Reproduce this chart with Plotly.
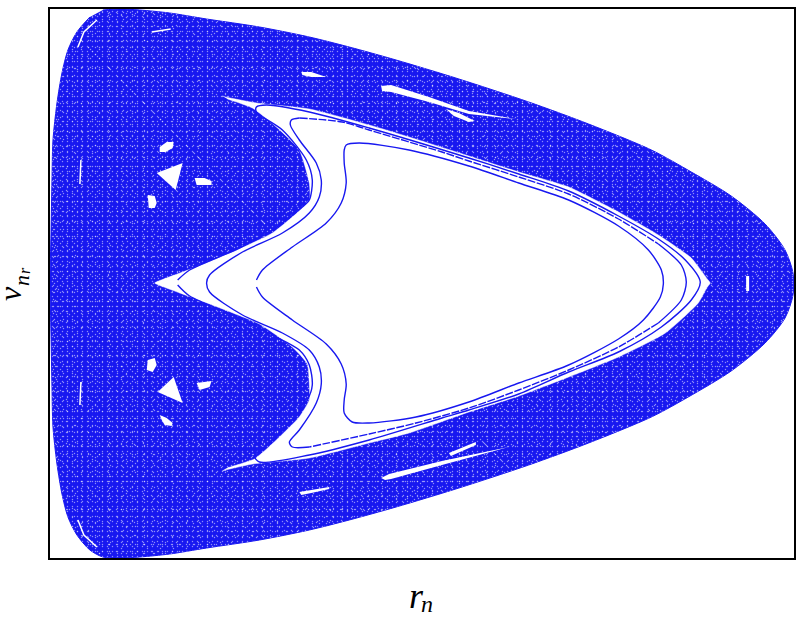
import plotly.graph_objects as go

BLUE = "#1818f0"

# chaotic sea, outer edge (clockwise from top left)
sea_r = [103, 120, 140, 170, 207, 260, 310, 350, 397, 460, 530, 590, 653, 693, 733, 767, 787, 795, 795, 787, 767, 733, 690, 653, 590, 530, 460, 397, 350, 310, 260, 207, 170, 140, 120, 103,
         90, 77, 68, 62, 57, 53, 52, 51, 50, 51, 52, 53, 57, 62, 68, 77, 90]
sea_v = [10, 9, 10, 13, 19, 27, 37, 47, 60, 79, 102, 124, 150, 172, 196, 224, 250, 273, 295, 318, 343, 371, 397, 417, 443, 465, 488, 507, 520, 530, 540, 548, 554, 557, 558, 557,
         550, 535, 517, 494, 464, 427, 387, 334, 284, 233, 180, 140, 103, 73, 50, 32, 17]

# empty region inside the sea
lagoon_r = [223, 226, 257, 310, 370, 410, 470, 520, 570, 620, 660, 693, 709, 712, 709, 700, 667, 620, 570, 520, 470, 410, 370, 310, 253, 226, 223,
            228, 255, 277, 300, 310, 310, 308, 293, 260, 210, 159, 155, 159, 207, 273, 310, 310, 300, 277, 253, 228]
lagoon_v = [96, 97, 103, 109, 125, 137, 156, 172, 187, 212, 235, 258, 279, 283, 287, 303, 333, 357, 377, 396, 412, 433, 443, 458, 464, 470, 471,
            468, 459, 440, 417, 400, 384, 364, 347, 324, 304, 285, 283, 281, 263, 233, 200, 183, 150, 127, 108, 99]

# invariant curves, outer to inner
curve1_r = [178, 190, 240, 273, 303, 310, 313, 307, 283, 257, 257, 267, 310, 370, 470, 520, 570, 620, 660, 687, 702, 693, 663, 620, 570, 520,
            470, 443, 370, 310, 260, 255, 277, 308, 313, 310, 300, 273, 240, 190, 178]
curve1_v = [280, 270, 248, 230, 207, 200, 180, 160, 130, 112, 107, 105, 112, 128, 158, 174, 191, 216, 239, 260, 282, 300, 327, 352, 372, 394,
            410, 418, 440, 455, 462, 456, 437, 400, 385, 365, 350, 335, 318, 296, 285]

curve2_left_r = [310, 293, 290, 300, 317, 322, 320, 310, 283, 243, 210, 207, 210, 243, 283, 310, 320, 322, 317, 300, 291, 292, 300]
curve2_left_v = [447, 447, 442, 430, 403, 384, 367, 350, 333, 315, 292, 283, 275, 252, 233, 213, 197, 180, 163, 140, 125, 120, 118]
curve2_top_r = [300, 343, 370, 443, 470, 520, 570, 620, 660]
curve2_top_v = [118, 122, 130, 152, 161, 177, 194, 219, 244]
curve2_tip_r = [660, 683, 688, 683, 660]
curve2_tip_v = [244, 265, 282, 300, 323]
curve2_low_r = [660, 620, 570, 520, 470, 417, 370, 310]
curve2_low_v = [323, 347, 370, 390, 408, 423, 434, 447]

curve3_r = [257, 263, 293, 327, 342, 347, 345, 345, 347, 360, 410, 470, 520, 570, 620, 650, 663, 665, 662, 645, 620, 570, 520, 470, 417, 370,
            353, 345, 345, 347, 342, 327, 293, 263, 257]
curve3_v = [280, 270, 247, 223, 203, 183, 163, 150, 145, 143, 150, 166, 183, 200, 226, 250, 270, 284, 297, 320, 339, 365, 383, 402, 417, 423,
            422, 413, 400, 384, 364, 344, 320, 297, 287]

# islands, as [r...], [v...]
islands = [
    ([157, 183, 176], [173, 163, 190]),
    ([160, 167, 174, 173, 166, 160], [147, 142, 142, 148, 152, 152]),
    ([195, 205, 212, 212, 197], [178, 178, 181, 185, 185]),
    ([148, 155, 157, 155, 149], [195, 196, 203, 208, 208]),
    ([302, 312, 327, 312, 303], [72, 72, 77, 77, 75]),
    ([382, 392, 430, 470, 517, 470, 430, 392, 383], [86, 85, 97, 111, 119, 114, 102, 92, 91]),
    ([447, 460, 476, 470, 455], [109, 113, 121, 122, 116]),
    ([158, 174, 183], [392, 377, 403]),
    ([197, 212, 210, 200], [383, 381, 387, 390]),
    ([148, 155, 157, 153, 147], [360, 358, 365, 372, 370]),
    ([160, 167, 173, 172, 165, 162], [415, 418, 423, 426, 425, 420]),
    ([300, 312, 330, 330, 312, 302], [492, 490, 487, 489, 493, 495]),
    ([382, 390, 443, 510, 443, 392, 386], [478, 474, 461, 447, 465, 479, 480]),
    ([450, 477, 477, 452], [453, 442, 445, 456]),
    ([748, 751, 751, 748], [276, 276, 291, 291]),
]

# thin white slivers
slivers = [
    ([78, 84, 97], [47, 32, 20]),
    ([152, 171], [32, 29]),
    ([81, 80], [160, 184]),
    ([81, 80], [382, 405]),
    ([78, 84, 97], [520, 535, 547]),
]

speckle_sizes = [5, 7, 9, 11, 13, 17]

fig = go.Figure()

fig.add_trace(go.Scatter(x=sea_r, y=sea_v, mode="lines", fill="toself", fillcolor=BLUE,
                         line=dict(color=BLUE, width=1, shape="spline", smoothing=0.8)))
for size in speckle_sizes:
    fig.add_trace(go.Scatter(x=sea_r, y=sea_v, mode="none", fill="toself", fillcolor="rgba(0,0,0,0)",
                             line=dict(shape="spline", smoothing=0.8),
                             fillpattern=dict(shape=".", fgcolor="white", bgcolor="rgba(0,0,0,0)",
                                              size=size, solidity=1.6 / size ** 2)))

fig.add_trace(go.Scatter(x=lagoon_r, y=lagoon_v, mode="lines", fill="toself", fillcolor="white",
                         line=dict(color="white", width=0.5, shape="spline", smoothing=0.5)))
for isl_r, isl_v in islands:
    fig.add_trace(go.Scatter(x=isl_r, y=isl_v, mode="none", fill="toself", fillcolor="white"))
for sl_r, sl_v in slivers:
    fig.add_trace(go.Scatter(x=sl_r, y=sl_v, mode="lines", line=dict(color="white", width=1.5)))

for c_r, c_v, dash in [(curve1_r, curve1_v, "solid"), (curve3_r, curve3_v, "solid"),
                       (curve2_left_r, curve2_left_v, "solid"), (curve2_tip_r, curve2_tip_v, "solid"),
                       (curve2_top_r, curve2_top_v, "8px,1.5px"), (curve2_low_r, curve2_low_v, "8px,1.5px")]:
    fig.add_trace(go.Scatter(x=c_r, y=c_v, mode="lines",
                             line=dict(color=BLUE, width=1.4, shape="spline", smoothing=0.8, dash=dash)))

fig.update_xaxes(range=[50, 796], showticklabels=False, ticks="", showgrid=False, zeroline=False,
                 showline=True, linecolor="black", linewidth=2, mirror=True)
fig.update_yaxes(range=[558, 9], showticklabels=False, ticks="", showgrid=False, zeroline=False,
                 showline=True, linecolor="black", linewidth=2, mirror=True)


def label(text, px, py, size, angle=0):
    # place by page pixel, plot area is 50..796 by 9..558
    return dict(text="<i>" + text + "</i>", xref="paper", yref="paper", x=(px - 50) / 746, y=(558 - py) / 549,
                xanchor="center", yanchor="middle", textangle=angle, showarrow=False, font=dict(size=size))


fig.update_layout(
    width=801, height=621, showlegend=False, plot_bgcolor="white", paper_bgcolor="white",
    margin=dict(l=50, r=5, t=9, b=63),
    font=dict(family="Liberation Serif", color="black"),
    annotations=[
        label("r", 417, 596, 36),
        label("n", 428, 604, 24),
        label("v", 10, 294, 32, -90),
        label("n", 21, 281, 22, -90),
        label("r", 24, 271, 16, -90),
    ],
)

fig.write_html("out.html", config=dict(displayModeBar=False), post_script="document.body.style.margin='0';")
